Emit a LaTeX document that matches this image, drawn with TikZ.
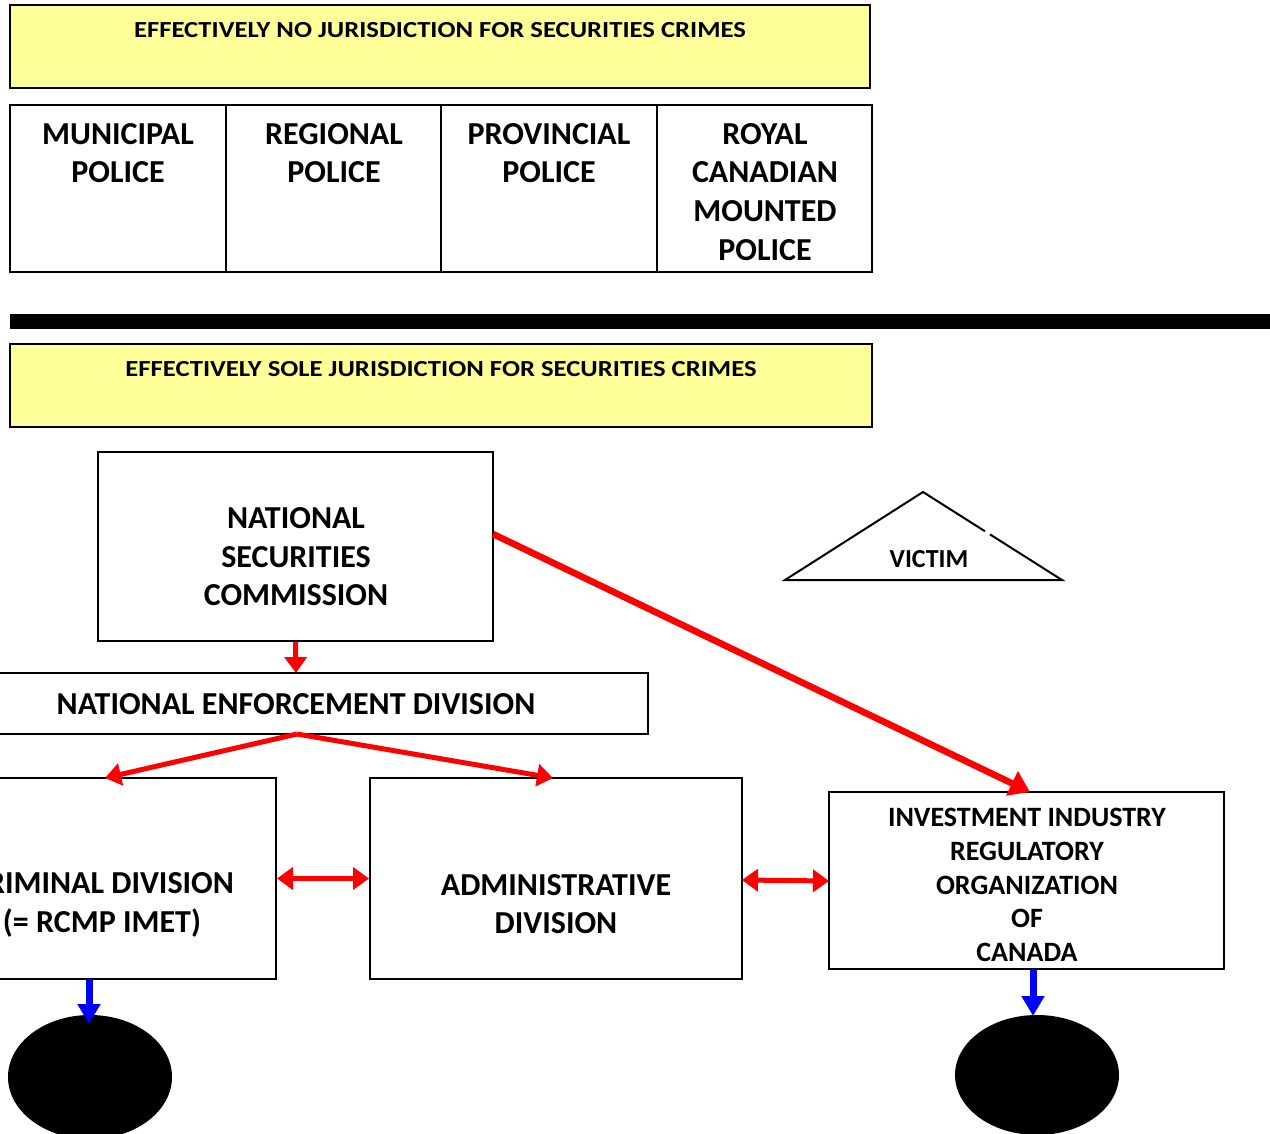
\documentclass[tikz,border=0pt]{standalone}
\usepackage{fontspec}
\setmainfont{Carlito}
\usetikzlibrary{arrows.meta,calc,shapes.geometric,fit}
\definecolor{paleyellow}{HTML}{FFFF99}
\tikzset{
  box/.style={draw=black, line width=1pt, inner sep=0pt},
  ybox/.style={box, fill=paleyellow},
  bigtxt/.style={font=\fontsize{16}{19.3}\selectfont\bfseries, align=center, inner sep=0pt},
  midtxt/.style={font=\fontsize{14}{16.8}\selectfont\bfseries, align=center, inner sep=0pt},
  vtxt/.style={font=\fontsize{13}{15}\selectfont\bfseries, inner sep=0pt},
  ttltxt/.style={font=\fontsize{11.5}{13}\selectfont\bfseries, inner sep=0pt},
  redarr/.style={draw=red, line width=2.5pt, -{Triangle[length=8pt,width=11pt]}},
  redbig/.style={draw=red, line width=3.3pt, -{Triangle[length=10pt,width=13pt]}},
  reddbl/.style={draw=red, line width=2.5pt, {Triangle[length=8pt,width=11pt]}-{Triangle[length=8pt,width=11pt]}},
  bluearr/.style={draw=blue, line width=3.5pt, -{Triangle[length=10pt,width=11pt]}},
  blob/.style={ellipse, fill=black, inner sep=0pt},
}
\begin{document}
\begin{tikzpicture}[x=0.5pt,y=-0.5pt]
\useasboundingbox (0,0) rectangle (1270,1134);
% top yellow
\node[ybox, fit={(10,5) (870,88)}] (topy) {};
\node[ttltxt, anchor=center] (topyt) at (440,30) {\scalebox{1.16}[1]{EFFECTIVELY NO JURISDICTION FOR SECURITIES CRIMES}};
% police table
\node[box, fit={(10,105) (226,272)}] (mun) {};
\node[box, fit={(226,105) (441,272)}] (reg) {};
\node[box, fit={(441,105) (657,272)}] (prov) {};
\node[box, fit={(657,105) (872,272)}] (rcmp) {};
\node[bigtxt, anchor=north] (munt) at (118,123) {MUNICIPAL\\POLICE};
\node[bigtxt, anchor=north] (regt) at (334,123) {REGIONAL\\POLICE};
\node[bigtxt, anchor=north] (provt) at (549,123) {PROVINCIAL\\POLICE};
\node[bigtxt, anchor=north] (rcmpt) at (765,123) {ROYAL\\CANADIAN\\MOUNTED\\POLICE};
% black bar
\fill[black] (10,314) rectangle (1270,329);
% second yellow
\node[ybox, fit={(10,344) (872,427)}] (boty) {};
\node[ttltxt, anchor=center] (botyt) at (441,369) {\scalebox{1.16}[1]{EFFECTIVELY SOLE JURISDICTION FOR SECURITIES CRIMES}};
% NSC
\node[box, fit={(98,452) (493,641)}] (nsc) {};
\node[bigtxt] (nsct) at (296,557) {NATIONAL\\SECURITIES\\COMMISSION};
% NED
\node[box, fit={(-60,673) (648,734)}] (ned) {};
\node[bigtxt] (nedt) at (296,704) {NATIONAL ENFORCEMENT DIVISION};
% criminal
\node[box, fit={(-72,778) (276,979)}] (crim) {};
\node[bigtxt] (crimt) at (102,905) {CRIMINAL DIVISION\\(= RCMP IMET)};
% admin
\node[box, fit={(370,778) (742,979)}] (adm) {};
\node[bigtxt] (admt) at (556,904) {ADMINISTRATIVE\\DIVISION};
% IIROC
\node[box, fit={(829,792) (1224,969)}] (iiroc) {};
\node[midtxt] (iirt) at (1027,885) {INVESTMENT INDUSTRY\\REGULATORY\\ORGANIZATION\\OF\\CANADA};
% victim
\coordinate (va) at (923,492);
\coordinate (vl) at (785,580);
\coordinate (vr) at (1062,580);
\coordinate (vg1) at (985,531.3);
\coordinate (vg2) at (990,534.4);
\draw[line width=1pt] (vg2) -- (vr) -- (vl) -- (va) -- (vg1);
\node[vtxt] (victim) at (929,559) {VICTIM};
% blobs
\node[blob, minimum width=82pt, minimum height=62pt] (blobl) at (90,1077) {};
\node[blob, minimum width=82pt, minimum height=60pt] (blobr) at (1037,1075) {};
% arrows
\coordinate (nedtop) at (296,673);
\coordinate (nedbot) at (297,734);
\coordinate (crimtop) at (105,778);
\coordinate (admtop) at (553,778);
\coordinate (nscr) at (493,534);
\coordinate (iirtop) at (1030,792);
\draw[redarr] (nsc.south) -- (nedtop);
\draw[redarr] (nedbot) -- (crimtop);
\draw[redarr] (nedbot) -- (admtop);
\draw[redbig] (nscr) -- (iirtop);
\draw[reddbl] (crim.east) -- (adm.west);
\coordinate (admr) at (742,880);
\coordinate (iirl) at (829,881);
\draw[reddbl] (admr) -- (iirl);
\coordinate (crimb) at (89,979);
\coordinate (blobltop) at (89,1024);
\coordinate (iirb) at (1033,969);
\coordinate (blobrtop) at (1033,1016);
\draw[bluearr] (crimb) -- (blobltop);
\draw[bluearr] (iirb) -- (blobrtop);
\end{tikzpicture}
\end{document}
